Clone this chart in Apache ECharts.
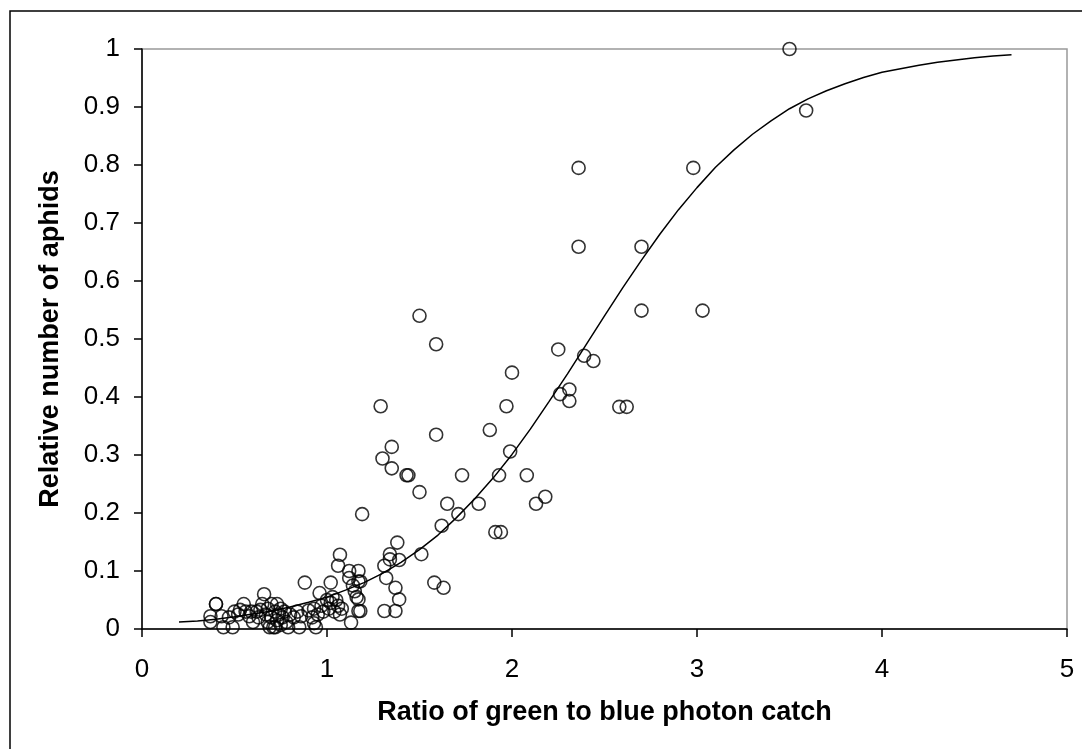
<!DOCTYPE html>
<html>
<head>
<meta charset="utf-8">
<script src="https://cdn.jsdelivr.net/npm/echarts@6/dist/echarts.min.js"></script>
<style>
  html, body { margin: 0; padding: 0; background: #fff; }
  #aphidChart { width: 1082px; height: 749px; }
</style>
</head>
<body>
<div id="aphidChart"></div>
<script>
// observed points: green/blue ratio and relative aphid count
const pointX = [
  0.37, 0.37, 0.40, 0.40, 0.43, 0.44, 0.47, 0.49, 0.50, 0.52, 0.53, 0.55, 0.56, 0.58,
  0.59, 0.60, 0.62, 0.63, 0.64, 0.65, 0.66, 0.67, 0.68, 0.68, 0.69, 0.70, 0.70, 0.71,
  0.72, 0.72, 0.73, 0.73, 0.74, 0.75, 0.75, 0.76, 0.77, 0.78, 0.79, 0.80, 0.82, 0.84,
  0.85, 0.86, 0.88, 0.90, 0.92, 0.93, 0.93, 0.94, 0.95, 0.96, 0.97, 0.98, 1.00, 1.01,
  1.02, 1.02, 1.03, 1.04, 1.05, 1.06, 1.06, 1.07, 1.07, 1.08, 1.12, 1.12, 1.13, 1.14,
  1.15, 1.16, 1.17, 1.17, 1.17, 1.17, 1.18, 1.18, 1.19, 1.29, 1.30, 1.31, 1.31, 1.32,
  1.34, 1.34, 1.35, 1.35, 1.37, 1.37, 1.38, 1.39, 1.39, 1.43, 1.44, 1.50, 1.50, 1.51,
  1.58, 1.59, 1.59, 1.62, 1.63, 1.65, 1.71, 1.73, 1.82, 1.88, 1.91, 1.93, 1.94, 1.97,
  1.99, 2.00, 2.08, 2.13, 2.18, 2.25, 2.26, 2.31, 2.31, 2.36, 2.36, 2.39, 2.44, 2.58,
  2.62, 2.70, 2.70, 2.98, 3.03, 3.50, 3.59
]
const pointY = [
  0.022, 0.012, 0.043, 0.043, 0.022, 0.003, 0.020, 0.003, 0.030, 0.025, 0.033, 0.043, 0.030, 0.022,
  0.030, 0.012, 0.030, 0.020, 0.033, 0.043, 0.060, 0.025, 0.035, 0.012, 0.003, 0.043, 0.020, 0.003,
  0.003, 0.030, 0.043, 0.015, 0.025, 0.035, 0.007, 0.020, 0.030, 0.012, 0.003, 0.025, 0.020, 0.030,
  0.003, 0.022, 0.080, 0.032, 0.020, 0.035, 0.010, 0.003, 0.025, 0.062, 0.040, 0.030, 0.050, 0.035,
  0.080, 0.045, 0.055, 0.030, 0.050, 0.109, 0.040, 0.128, 0.025, 0.035, 0.100, 0.088, 0.011, 0.075,
  0.065, 0.055, 0.100, 0.082, 0.051, 0.031, 0.031, 0.082, 0.198, 0.384, 0.294, 0.109, 0.031, 0.088,
  0.129, 0.120, 0.314, 0.277, 0.071, 0.031, 0.149, 0.119, 0.051, 0.265, 0.265, 0.540, 0.236, 0.129,
  0.080, 0.491, 0.335, 0.178, 0.071, 0.216, 0.198, 0.265, 0.216, 0.343, 0.167, 0.265, 0.167, 0.384,
  0.306, 0.442, 0.265, 0.216, 0.228, 0.482, 0.405, 0.413, 0.393, 0.795, 0.659, 0.471, 0.462, 0.383,
  0.383, 0.659, 0.549, 0.795, 0.549, 1.000, 0.894
]

// fitted curve
const curveX = [
  0.2, 0.3, 0.4, 0.5, 0.6, 0.7, 0.8, 0.9, 1.0, 1.1, 1.2, 1.3, 1.4, 1.5, 1.6, 1.7,
  1.8, 1.9, 2.0, 2.1, 2.2, 2.3, 2.4, 2.5, 2.6, 2.7, 2.8, 2.9, 3.0, 3.1, 3.2, 3.3,
  3.4, 3.5, 3.6, 3.7, 3.8, 3.9, 4.0, 4.1, 4.2, 4.3, 4.4, 4.5, 4.6, 4.7
]
const curveY = [
  0.012, 0.014, 0.017, 0.021, 0.026, 0.031, 0.038, 0.046, 0.055, 0.067, 0.080, 0.096,
  0.115, 0.137, 0.162, 0.192, 0.225, 0.261, 0.301, 0.345, 0.392, 0.440, 0.490, 0.540,
  0.589, 0.636, 0.681, 0.723, 0.761, 0.796, 0.826, 0.853, 0.876, 0.897, 0.914, 0.928,
  0.940, 0.951, 0.960, 0.966, 0.972, 0.977, 0.981, 0.985, 0.988, 0.990
]

const xTicks = ['0', '1', '2', '3', '4', '5']
const yTicks = ['0', '0.1', '0.2', '0.3', '0.4', '0.5', '0.6', '0.7', '0.8', '0.9', '1']

const xTitle = 'Ratio of green to blue photon catch'
const yTitle = 'Relative number of aphids'

let chart = echarts.init(document.getElementById('aphidChart'))

const axisText = { color: '#000', fontFamily: 'Liberation Sans, Arial, sans-serif', fontSize: 26 }
const titleText = { color: '#000', fontFamily: 'Liberation Sans, Arial, sans-serif', fontSize: 27, fontWeight: 'bold' }

chart.setOption({
  animation: false,
  backgroundColor: '#fff',
  graphic: [
    {
      type: 'rect',
      shape: { x: 10, y: 11, width: 1090, height: 760 },
      style: { fill: null, stroke: '#000', lineWidth: 1.5 },
      silent: true
    }
  ],
  grid: {
    left: 142, right: 15, top: 49, bottom: 120,
    show: true, borderColor: '#999', borderWidth: 1.5
  },
  xAxis: {
    type: 'value',
    min: 0, max: 5, interval: 1,
    name: xTitle,
    nameLocation: 'middle',
    nameGap: 70,
    nameTextStyle: titleText,
    axisLine: { lineStyle: { color: '#000', width: 1.5 } },
    axisTick: { show: true, inside: false, length: 8, lineStyle: { color: '#000', width: 1.5 } },
    axisLabel: Object.assign({ margin: 28, formatter: (v) => xTicks[Math.round(v)] }, axisText),
    splitLine: { show: false }
  },
  yAxis: {
    type: 'value',
    min: 0, max: 1, interval: 0.1,
    name: yTitle,
    nameLocation: 'middle',
    nameGap: 78,
    nameTextStyle: titleText,
    axisLine: { show: true, lineStyle: { color: '#000', width: 1.5 } },
    axisTick: { show: true, inside: false, length: 8, lineStyle: { color: '#000', width: 1.5 } },
    axisLabel: Object.assign({ margin: 22, formatter: (v) => yTicks[Math.round(v * 10)] }, axisText),
    splitLine: { show: false }
  },
  series: [
    {
      type: 'line',
      data: curveX.map((x, i) => [x, curveY[i]]),
      showSymbol: false,
      symbol: 'none',
      lineStyle: { color: '#000', width: 1.5 },
      z: 2
    },
    {
      type: 'scatter',
      data: pointX.map((x, i) => [x, pointY[i]]),
      symbol: 'circle',
      symbolSize: 13,
      itemStyle: { color: 'rgba(0,0,0,0)', borderColor: '#000', borderWidth: 1.6 },
      z: 3
    }
  ]
})
</script>
</body>
</html>
